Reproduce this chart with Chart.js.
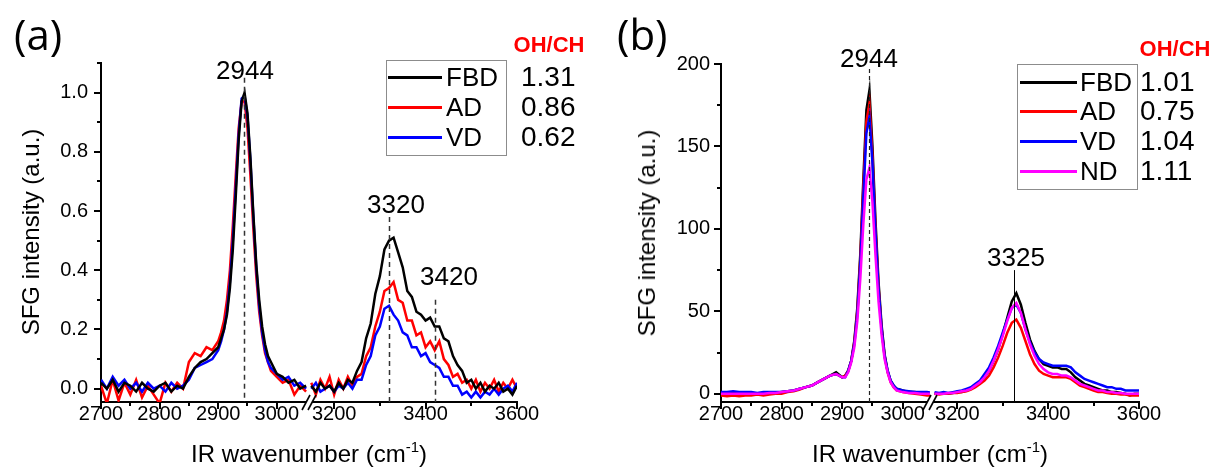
<!DOCTYPE html>
<html>
<head>
<meta charset="utf-8">
<script src="https://cdn.jsdelivr.net/npm/chart.js@4.4.1/dist/chart.umd.min.js"></script>
<style>
    html, body { margin: 0; padding: 0; background: #fff; }
    #fig { position: relative; width: 1215px; height: 468px; overflow: hidden; background: #fff;
           font-family: "Liberation Sans", Arial, sans-serif; color: #000; }
    #fig canvas { position: absolute; top: 0; }
    .txt { position: absolute; white-space: nowrap; line-height: 1; }
    .box { position: absolute; border: 1px solid #8c8c8c; }
    .swatch { position: absolute; height: 3px; }
</style>
</head>
<body>
<div id="fig"></div>
<script>
// ===== DATOS =====
// eje x compartido: tramo izquierdo (antes del corte) y tramo derecho
const xLeft = [2700, 2710, 2720, 2730, 2740, 2750, 2760, 2770, 2780, 2790,
               2800, 2810, 2820, 2830, 2840, 2850, 2860, 2870, 2880, 2890,
               2900, 2905, 2910, 2915, 2920, 2925, 2930, 2935, 2940, 2945,
               2950, 2955, 2960, 2965, 2970, 2975, 2980, 2985, 2990,
               3000, 3010, 3020, 3030, 3040, 3050];
const xRight = [3150, 3160, 3170, 3180, 3190, 3200, 3210, 3220, 3230, 3240,
                3250, 3260, 3270, 3280, 3290, 3300, 3310, 3320, 3330, 3340,
                3350, 3360, 3370, 3380, 3390, 3400, 3410, 3420, 3430, 3440,
                3450, 3460, 3470, 3480, 3490, 3500, 3510, 3520, 3530, 3540,
                3550, 3560, 3570, 3580, 3590, 3600];

// panel (a) - intensidad normalizada
const aFBDLeft = [0.02, 0.0, 0.03, -0.01, 0.02, 0.01, -0.01, 0.02, 0.0, -0.01,
                  0.01, 0.02, -0.01, 0.01, 0.0, 0.04, 0.07, 0.09, 0.1, 0.12,
                  0.14, 0.17, 0.2, 0.25, 0.34, 0.47, 0.65, 0.84, 0.97, 1.0,
                  0.93, 0.78, 0.59, 0.42, 0.3, 0.21, 0.15, 0.11, 0.09,
                  0.05, 0.04, 0.02, 0.03, 0.0, 0.01];
const aADLeft = [0.01, -0.05, 0.03, -0.04, 0.02, -0.02, 0.03, -0.03, 0.01, -0.02,
                 -0.05, 0.02, -0.01, 0.02, 0.0, 0.09, 0.12, 0.11, 0.14, 0.13,
                 0.16, 0.19, 0.23, 0.3, 0.4, 0.55, 0.72, 0.88, 0.97, 0.97,
                 0.88, 0.72, 0.54, 0.38, 0.26, 0.18, 0.12, 0.09, 0.06,
                 0.04, 0.02, 0.03, -0.02, 0.01, -0.01];
const aVDLeft = [0.03, 0.0, 0.04, 0.01, 0.03, 0.0, 0.02, -0.01, 0.02, 0.0,
                 0.01, -0.01, 0.02, 0.0, 0.01, 0.03, 0.07, 0.08, 0.09, 0.1,
                 0.13, 0.16, 0.2, 0.26, 0.36, 0.5, 0.68, 0.86, 0.98, 0.99,
                 0.92, 0.77, 0.58, 0.41, 0.28, 0.19, 0.13, 0.09, 0.07,
                 0.05, 0.03, 0.04, 0.01, 0.02, 0.0];
const aFBDRight = [0.01, -0.01, 0.02, 0.0, 0.01, -0.01, 0.02, 0.0, 0.03, 0.02,
                   0.06, 0.09, 0.17, 0.22, 0.32, 0.38, 0.47, 0.5, 0.51, 0.46,
                   0.41, 0.33, 0.31, 0.26, 0.25, 0.23, 0.24, 0.21, 0.21, 0.17,
                   0.16, 0.11, 0.08, 0.06, 0.02, 0.03, 0.0, 0.02, -0.01, 0.01,
                   0.0, 0.02, -0.01, 0.0, -0.02, 0.01];
const aADRight = [0.02, -0.02, 0.03, 0.0, 0.04, -0.02, 0.03, 0.0, 0.04, 0.01,
                  0.04, 0.05, 0.11, 0.14, 0.21, 0.26, 0.33, 0.34, 0.36, 0.3,
                  0.29, 0.23, 0.23, 0.18, 0.19, 0.14, 0.16, 0.13, 0.16, 0.1,
                  0.08, 0.04, 0.05, 0.02, 0.03, 0.0, 0.03, -0.01, 0.02, 0.0,
                  0.03, -0.01, 0.02, 0.0, 0.03, 0.0];
const aVDRight = [0.0, 0.02, -0.01, 0.0, 0.01, -0.01, 0.01, 0.0, 0.02, 0.0,
                  0.03, 0.03, 0.08, 0.11, 0.18, 0.21, 0.27, 0.28, 0.25, 0.23,
                  0.19, 0.18, 0.14, 0.14, 0.11, 0.12, 0.09, 0.08, 0.07, 0.04,
                  0.04, 0.01, 0.01, -0.02, -0.01, -0.03, -0.01, -0.03, -0.01, -0.02,
                  0.0, -0.02, 0.0, 0.01, -0.01, 0.02];

// panel (b) - intensidad en u.a.
const bFBDLeft = [0, 0, 0.5, 0, -0.5, 0, 0, 0.5, 0, 0.5,
                  1, 1.5, 2, 3, 4, 5, 7, 9, 11, 13,
                  10, 11, 14, 20, 32, 52, 85, 130, 172, 184,
                  150, 105, 68, 42, 24, 14, 8, 5, 3,
                  2, 1, 1, 0.5, 0, 0];
const bADLeft = [-1, -1.5, -1, -1.5, -1, -1, -0.5, -1, -0.5, 0,
                 0, 1, 1.5, 2.5, 4, 5, 7, 9, 11, 12,
                 10, 11, 14, 20, 31, 50, 82, 125, 165, 176,
                 144, 100, 65, 40, 23, 13, 7, 4, 2,
                 1, 0.5, 0, -0.5, -1, -1];
const bVDLeft = [1, 1, 1.5, 1, 1, 1, 0.5, 1, 1, 1,
                 1, 1.5, 2, 3, 4, 5, 7, 9, 11, 12,
                 10, 10, 14, 20, 30, 48, 79, 120, 158, 168,
                 140, 98, 64, 40, 23, 14, 8, 5, 3,
                 2, 1.5, 1, 1, 1, 0.5];
const bNDLeft = [0, 0, 0, 0, 0, 0, 0, 0, 0.5, 0.5,
                 1, 1.5, 2, 3, 4, 5, 7, 9, 11, 12,
                 10, 10, 13, 19, 28, 44, 70, 103, 130, 137,
                 116, 84, 56, 36, 21, 13, 7, 4, 2,
                 1, 0.5, 0.5, 0, 0, 0];
const bFBDRight = [0, 0, 0.5, 0, 0.5, 1, 1, 2, 3, 5,
                   7, 10, 14, 20, 27, 36, 46, 56, 61, 54,
                   43, 33, 26, 21, 18, 17, 16, 16, 15, 15,
                   13, 10, 8, 6, 5, 4, 3, 2, 2, 1,
                   1, 0.5, 0, -1, 0, 0];
const bADRight = [0, -0.5, 0, 0, 0.5, 0.5, 1, 1.5, 2.5, 4,
                  6, 8, 11, 16, 22, 29, 37, 43, 45, 40,
                  32, 24, 18, 14, 12, 11, 10, 10, 10, 10,
                  9, 7, 5, 4, 3, 2, 1, 1, 0.5, 0,
                  0, -0.5, -0.5, -1, -1, -1];
const bVDRight = [1, 0.5, 1, 0.5, 1, 1.5, 2, 3, 4, 6,
                  8, 12, 16, 22, 29, 37, 45, 52, 54, 49,
                  39, 31, 25, 21, 19, 18, 17, 17, 17, 17,
                  16, 13, 11, 9, 8, 7, 6, 5, 4, 4,
                  3, 3, 2, 2, 2, 2];
const bNDRight = [0, 0, 0, 0.5, 0.5, 1, 1.5, 2, 3, 5,
                  7, 10, 14, 20, 27, 35, 44, 52, 55, 49,
                  39, 30, 23, 18, 15, 13, 12, 12, 11, 11,
                  10, 8, 6, 5, 4, 3, 2, 2, 1, 1,
                  0.5, 0.5, 0, 0, 0, 0];

// ticks
const xTicksLeft = [2700, 2800, 2900, 3000];
const xMinorLeft = [2750, 2850, 2950];
const xTicksRight = [3200, 3400, 3600];
const xMinorRight = [3300, 3500];
const yTicksA = [0, 0.2, 0.4, 0.6, 0.8, 1.0];
const yMinorA = [0.1, 0.3, 0.5, 0.7, 0.9, 1.1];
const yTicksB = [0, 50, 100, 150, 200];
const yMinorB = [25, 75, 125, 175];

// picos marcados
const peaksA = [2944, 3320, 3420];
const peaksB = [2944, 3325];

// leyendas y cocientes OH/CH
const namesA = ['FBD', 'AD', 'VD'];
const ratiosA = ['1.31', '0.86', '0.62'];
const namesB = ['FBD', 'AD', 'VD', 'ND'];
const ratiosB = ['1.01', '0.75', '1.04', '1.11'];

const COLORS = { FBD: '#000000', AD: '#ff0000', VD: '#0000ff', ND: '#ff00ff' };

const fig = document.getElementById('fig');
const tickFont = { family: '"Liberation Sans", Arial, sans-serif', size: 20 };

// ===== PLUGIN: ticks, marcas de pico y corte del eje =====
const axisDecor = {
    id: 'axisDecor',
    afterDatasetsDraw(chart, args, opts) {
        const ctx = chart.ctx;
        const area = chart.chartArea;
        const xs = chart.scales.x, ys = chart.scales.y;
        ctx.save();
        (opts.markers || []).forEach(m => {
            const px = Math.round(xs.getPixelForValue(m.x)) + 0.5;
            ctx.beginPath();
            ctx.setLineDash(m.dash || []);
            ctx.lineWidth = m.width;
            ctx.strokeStyle = m.color;
            ctx.moveTo(px, ys.getPixelForValue(m.top));
            ctx.lineTo(px, area.bottom);
            ctx.stroke();
        });
        ctx.restore();
    },
    afterDraw(chart, args, opts) {
        const ctx = chart.ctx;
        const area = chart.chartArea;
        const xs = chart.scales.x, ys = chart.scales.y;
        ctx.save();
        ctx.strokeStyle = '#000';
        const line = (x1, y1, x2, y2, w) => {
            ctx.beginPath();
            ctx.lineWidth = w;
            ctx.moveTo(x1, y1);
            ctx.lineTo(x2, y2);
            ctx.stroke();
        };
        xs.ticks.forEach(t => {
            const p = Math.round(xs.getPixelForValue(t.value));
            line(p, area.bottom, p, area.bottom + 7, 2);
        });
        (opts.xMinor || []).forEach(v => {
            const p = Math.round(xs.getPixelForValue(v));
            line(p, area.bottom, p, area.bottom + 4, 2);
        });
        if (opts.yAxis) {
            ys.ticks.forEach(t => {
                const p = Math.round(ys.getPixelForValue(t.value));
                line(area.left - 7, p, area.left, p, 2);
            });
            (opts.yMinor || []).forEach(v => {
                const p = Math.round(ys.getPixelForValue(v));
                line(area.left - 4, p, area.left, p, 2);
            });
        }
        if (opts.breakMark) {
            const bx = area.left, by = area.bottom;
            ctx.fillStyle = '#fff';
            ctx.fillRect(bx - 3, by - 2, 6, 4);
            [-3, 3].forEach(d => line(bx + d - 4, by + 8, bx + d + 4, by - 7, 1.6));
        }
        ctx.restore();
    }
};

// ===== GRAFICO DE UN TRAMO =====
function crearTramo(o) {
    const canvas = document.createElement('canvas');
    canvas.width = o.width;
    canvas.height = 468;
    canvas.style.left = o.left + 'px';
    canvas.style.width = o.width + 'px';
    canvas.style.height = '468px';
    fig.appendChild(canvas);

    const datasets = o.series.map(s => ({
        label: s.name,
        data: o.xs.map((x, i) => ({ x: x, y: s.values[i] })),
        borderColor: COLORS[s.name],
        backgroundColor: COLORS[s.name],
        borderWidth: 2.5,
        pointRadius: 0,
        tension: 0,
        fill: false,
        order: s.order
    }));

    const yScale = {
        type: 'linear',
        display: o.showY,
        min: o.yMin,
        max: o.yMax,
        afterBuildTicks: s => { s.ticks = o.yTicks.map(v => ({ value: v })); },
        grid: { display: false, drawTicks: false },
        border: { display: true, color: '#000', width: 2 },
        ticks: {
            color: '#000', font: tickFont, padding: o.yPad, autoSkip: false,
            callback: v => o.yFmt(v)
        }
    };
    if (o.showY) yScale.afterFit = s => { s.width = o.yWidth; };

    return new Chart(canvas.getContext('2d'), {
        type: 'line',
        data: { datasets: datasets },
        options: {
            responsive: false,
            animation: false,
            devicePixelRatio: 1,
            events: [],
            layout: { padding: o.padding },
            plugins: {
                legend: { display: false },
                tooltip: { enabled: false },
                axisDecor: {
                    markers: o.markers,
                    xMinor: o.xMinor,
                    yAxis: o.showY,
                    yMinor: o.yMinor,
                    breakMark: o.breakMark
                }
            },
            scales: {
                x: {
                    type: 'linear',
                    min: o.xMin,
                    max: o.xMax,
                    afterBuildTicks: s => { s.ticks = o.xTicks.map(v => ({ value: v })); },
                    afterFit: s => { s.height = 30; },
                    grid: { display: false, drawTicks: false },
                    border: { display: true, color: '#000', width: 2 },
                    ticks: {
                        color: '#000', font: tickFont, padding: 0, maxRotation: 0, autoSkip: false,
                        callback: v => String(v)
                    }
                },
                y: yScale
            }
        },
        plugins: [axisDecor]
    });
}

// ===== TEXTOS =====
function texto(html, x, baseline, size, extra, ascent) {
    const d = document.createElement('div');
    d.className = 'txt';
    d.innerHTML = html;
    d.style.fontSize = size + 'px';
    d.style.left = x + 'px';
    d.style.top = (baseline - (ascent || 0.8465) * size) + 'px';
    Object.assign(d.style, extra || {});
    fig.appendChild(d);
    return d;
}
const centro = { transform: 'translateX(-50%)' };

function leyenda(box, names, ratios, rows, lineX, textX, ratioX) {
    const b = document.createElement('div');
    b.className = 'box';
    b.style.left = box[0] + 'px';
    b.style.top = box[1] + 'px';
    b.style.width = box[2] + 'px';
    b.style.height = box[3] + 'px';
    fig.appendChild(b);
    names.forEach((n, i) => {
        const sw = document.createElement('div');
        sw.className = 'swatch';
        sw.style.left = lineX[0] + 'px';
        sw.style.width = (lineX[1] - lineX[0]) + 'px';
        sw.style.top = (rows[i] - 1.5) + 'px';
        sw.style.background = COLORS[n];
        fig.appendChild(sw);
        texto(n, textX, rows[i] + 9.5, 26);
        texto(ratios[i], ratioX, rows[i] + 10, 28);
    });
}

function panelTitulos(cx, cy, xTitleY) {
    texto('SFG intensity (a.u.)', cx.yTitle, cy, 24,
          { transform: 'translate(-50%, -50%) rotate(-90deg)', top: cy + 'px', transformOrigin: '50% 50%' });
    texto('IR wavenumber (cm<span style="font-size:15px;position:relative;top:-10px">-1</span>)',
          cx.xTitle, xTitleY, 24, centro);
}

// ===== PANEL (a) =====
const serA = (l) => [
    { name: 'FBD', values: l ? aFBDLeft : aFBDRight, order: 0 },
    { name: 'VD', values: l ? aVDLeft : aVDRight, order: 1 },
    { name: 'AD', values: l ? aADLeft : aADRight, order: 2 }
];
crearTramo({
    left: 0, width: 340, xs: xLeft, series: serA(true),
    xMin: 2700, xMax: 3055, xTicks: xTicksLeft, xMinor: xMinorLeft,
    showY: true, yMin: -0.045, yMax: 1.1, yTicks: yTicksA, yMinor: yMinorA,
    yWidth: 101, yPad: 13, yFmt: v => v.toFixed(1),
    padding: { left: 0, top: 63, right: 31, bottom: 36 },
    markers: [{ x: peaksA[0], top: 1.05, dash: [5, 4], width: 1.5, color: '#333' }]
});
crearTramo({
    left: 280, width: 280, xs: xRight, series: serA(false),
    xMin: 3145, xMax: 3600, xTicks: xTicksRight, xMinor: xMinorRight,
    showY: false, yMin: -0.045, yMax: 1.1, yTicks: yTicksA, yMinor: [],
    yWidth: 0, yPad: 0, yFmt: v => v.toFixed(1),
    padding: { left: 29, top: 63, right: 43, bottom: 36 },
    markers: [
        { x: peaksA[1], top: 0.58, dash: [5, 4], width: 1.5, color: '#333' },
        { x: peaksA[2], top: 0.30, dash: [5, 4], width: 1.5, color: '#333' }
    ],
    breakMark: true
});

// ===== PANEL (b) =====
const serB = (l) => [
    { name: 'ND', values: l ? bNDLeft : bNDRight, order: 0 },
    { name: 'VD', values: l ? bVDLeft : bVDRight, order: 1 },
    { name: 'AD', values: l ? bADLeft : bADRight, order: 2 },
    { name: 'FBD', values: l ? bFBDLeft : bFBDRight, order: 3 }
];
crearTramo({
    left: 600, width: 350, xs: xLeft, series: serB(true),
    xMin: 2700, xMax: 3045, xTicks: xTicksLeft, xMinor: xMinorLeft,
    showY: true, yMin: -5, yMax: 200, yTicks: yTicksB, yMinor: yMinorB,
    yWidth: 121, yPad: 11, yFmt: v => String(v),
    padding: { left: 0, top: 64, right: 20, bottom: 36 },
    markers: [{ x: peaksB[0], top: 197, dash: [4, 3], width: 1.2, color: '#222' }]
});
crearTramo({
    left: 910, width: 305, xs: xRight, series: serB(false),
    xMin: 3140, xMax: 3600, xTicks: xTicksRight, xMinor: xMinorRight,
    showY: false, yMin: -5, yMax: 200, yTicks: yTicksB, yMinor: [],
    yWidth: 0, yPad: 0, yFmt: v => String(v),
    padding: { left: 20, top: 64, right: 76, bottom: 36 },
    markers: [{ x: peaksB[1], top: 75, dash: [], width: 1, color: '#000' }],
    breakMark: true
});

// ===== ANOTACIONES =====
texto('(a)', 14, 50, 42, { fontFamily: '"Open Sans", sans-serif' }, 0.888);
texto('(b)', 617, 50, 42, { fontFamily: '"Open Sans", sans-serif' }, 0.888);

texto(String(peaksA[0]), 245, 79, 26, centro);
texto(String(peaksA[1]), 396, 213, 26, centro);
texto(String(peaksA[2]), 449, 285, 26, centro);
texto(String(peaksB[0]), 869, 67, 26, centro);
texto(String(peaksB[1]), 1016, 266, 26, centro);

texto('OH/CH', 549, 53, 22, Object.assign({ color: '#ff0000', fontWeight: 'bold' }, centro));
texto('OH/CH', 1175, 57, 22, Object.assign({ color: '#ff0000', fontWeight: 'bold' }, centro));

leyenda([386, 60, 119, 94], namesA, ratiosA, [77, 107, 137], [388, 442], 446, 521);
leyenda([1017, 64, 119, 124], namesB, ratiosB, [82, 111, 141, 171], [1020, 1077], 1080, 1140);

panelTitulos({ yTitle: 31, xTitle: 309 }, 232, 462);
panelTitulos({ yTitle: 647, xTitle: 930 }, 233, 462);
</script>
</body>
</html>
